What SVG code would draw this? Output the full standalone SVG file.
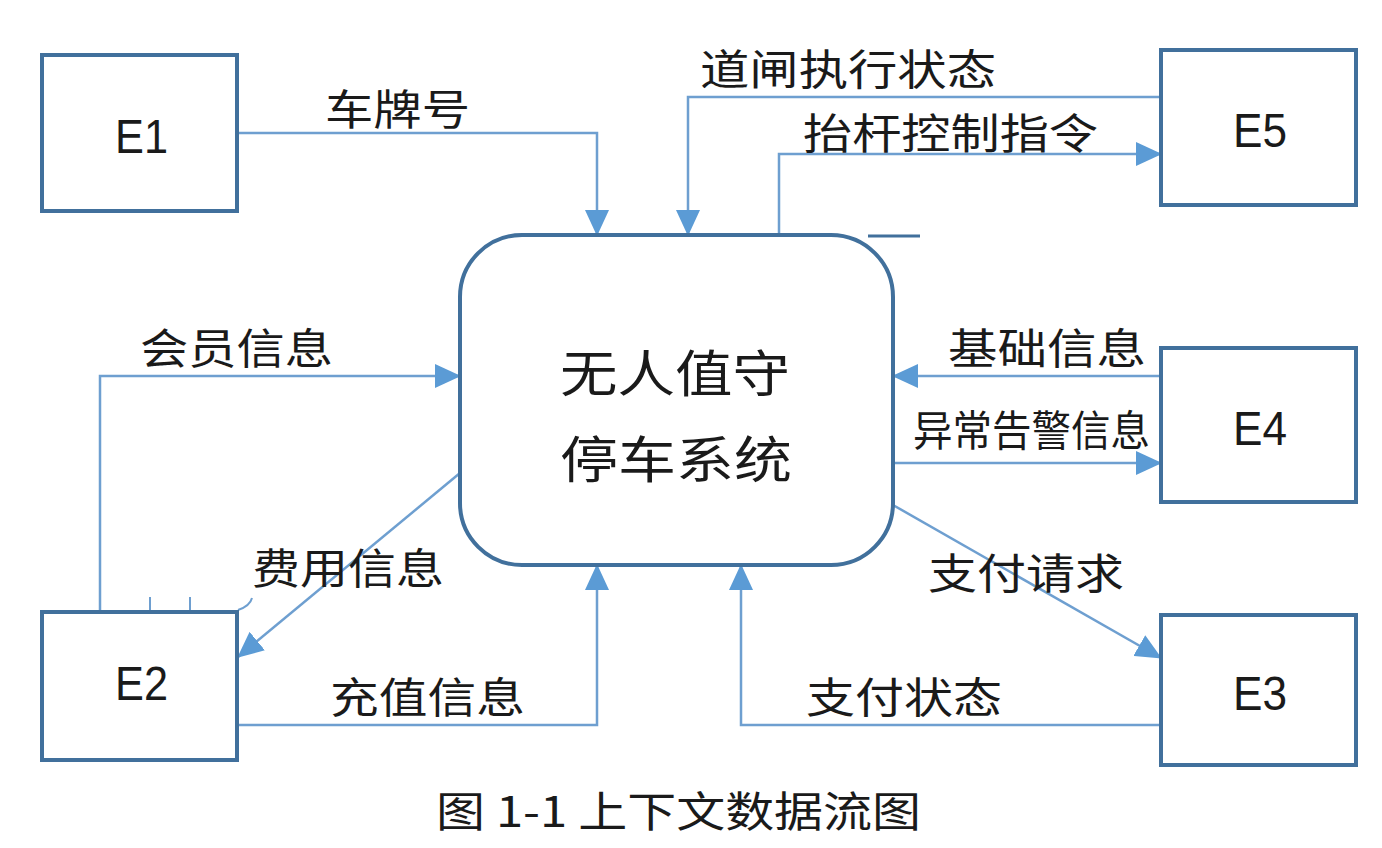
<svg xmlns="http://www.w3.org/2000/svg" width="1382" height="848" viewBox="0 0 1382 848">
<defs>
<style>
.box{fill:#fff;stroke:#41709c;stroke-width:4}
.proc{fill:#fff;stroke:#41709c;stroke-width:4}
.flow{fill:none;stroke:#6e9fd0;stroke-width:2.5}
.lbl{font-family:"Noto Sans CJK SC","Noto Sans",sans-serif;font-size:42px;fill:#1a1a1a}
.ent{font-family:"Liberation Sans","DejaVu Sans",sans-serif;font-size:48px;fill:#1a1a1a}
.ptxt{font-family:"Noto Sans CJK SC","Noto Sans",sans-serif;font-size:50px;fill:#1a1a1a}
</style>
<marker id="ah" markerUnits="userSpaceOnUse" markerWidth="26" markerHeight="24" refX="25" refY="12" orient="auto">
<path d="M0,0 L26,12 L0,24 z" fill="#5b9bd5"/>
</marker>
</defs>
<rect width="1382" height="848" fill="#fff"/>

<g id="connectors">
<path class="flow" d="M237,133 H597 V235" marker-end="url(#ah)"/>
<path class="flow" d="M1161,97 H688 V235" marker-end="url(#ah)"/>
<path class="flow" d="M779,235 V154 H1161" marker-end="url(#ah)"/>
<path class="flow" d="M100,612 V376 H460" marker-end="url(#ah)"/>
<path class="flow" d="M460,473 L238,657" marker-end="url(#ah)"/>
<path class="flow" d="M237,725 H597 V565" marker-end="url(#ah)"/>
<path class="flow" d="M1161,376 H893" marker-end="url(#ah)"/>
<path class="flow" d="M893,463 H1161" marker-end="url(#ah)"/>
<path class="flow" d="M893,505 L1161,658" marker-end="url(#ah)"/>
<path class="flow" d="M1161,725 H741 V565" marker-end="url(#ah)"/>
<line x1="868" y1="236" x2="920" y2="236" stroke="#41709c" stroke-width="3"/>
<path d="M150,597 V612 M190,597 V612 M238,610 Q250,606 252,598" fill="none" stroke="#6e9fd0" stroke-width="2"/>
</g>

<g id="P0">
<rect class="proc" x="460" y="235" width="433" height="330" rx="62" ry="62"/>
<text class="ptxt" x="560" y="392" textLength="230" lengthAdjust="spacingAndGlyphs">无人值守</text>
<text class="ptxt" x="560" y="478" textLength="232" lengthAdjust="spacingAndGlyphs">停车系统</text>
</g>

<g id="E1">
<rect class="box" x="42" y="55" width="195" height="156"/>
<text class="ent" x="115" y="153" textLength="53" lengthAdjust="spacingAndGlyphs">E1</text>
</g>
<g id="E2">
<rect class="box" x="42" y="612" width="195" height="148"/>
<text class="ent" x="115" y="700" textLength="53" lengthAdjust="spacingAndGlyphs">E2</text>
</g>
<g id="E3">
<rect class="box" x="1161" y="615" width="195" height="150"/>
<text class="ent" x="1233" y="710" textLength="54" lengthAdjust="spacingAndGlyphs">E3</text>
</g>
<g id="E4">
<rect class="box" x="1161" y="348" width="195" height="154"/>
<text class="ent" x="1233" y="445" textLength="54" lengthAdjust="spacingAndGlyphs">E4</text>
</g>
<g id="E5">
<rect class="box" x="1161" y="50" width="195" height="155"/>
<text class="ent" x="1233" y="147" textLength="54" lengthAdjust="spacingAndGlyphs">E5</text>
</g>

<g id="labels">
<text class="lbl" x="325" y="125" textLength="145" lengthAdjust="spacingAndGlyphs">车牌号</text>
<text class="lbl" x="700" y="85" textLength="296" lengthAdjust="spacingAndGlyphs">道闸执行状态</text>
<text class="lbl" x="803" y="149" textLength="295" lengthAdjust="spacingAndGlyphs">抬杆控制指令</text>
<text class="lbl" x="140" y="364" textLength="193" lengthAdjust="spacingAndGlyphs">会员信息</text>
<text class="lbl" x="252" y="584" textLength="192" lengthAdjust="spacingAndGlyphs">费用信息</text>
<text class="lbl" x="330" y="713" textLength="195" lengthAdjust="spacingAndGlyphs">充值信息</text>
<text class="lbl" x="948" y="364" textLength="198" lengthAdjust="spacingAndGlyphs">基础信息</text>
<text class="lbl" x="913" y="446" textLength="237" lengthAdjust="spacingAndGlyphs">异常告警信息</text>
<text class="lbl" x="928" y="589" textLength="196" lengthAdjust="spacingAndGlyphs">支付请求</text>
<text class="lbl" x="806" y="713" textLength="196" lengthAdjust="spacingAndGlyphs">支付状态</text>
<text class="lbl" x="436" y="827" textLength="485" lengthAdjust="spacingAndGlyphs">图 1-1 上下文数据流图</text>
</g>
</svg>
